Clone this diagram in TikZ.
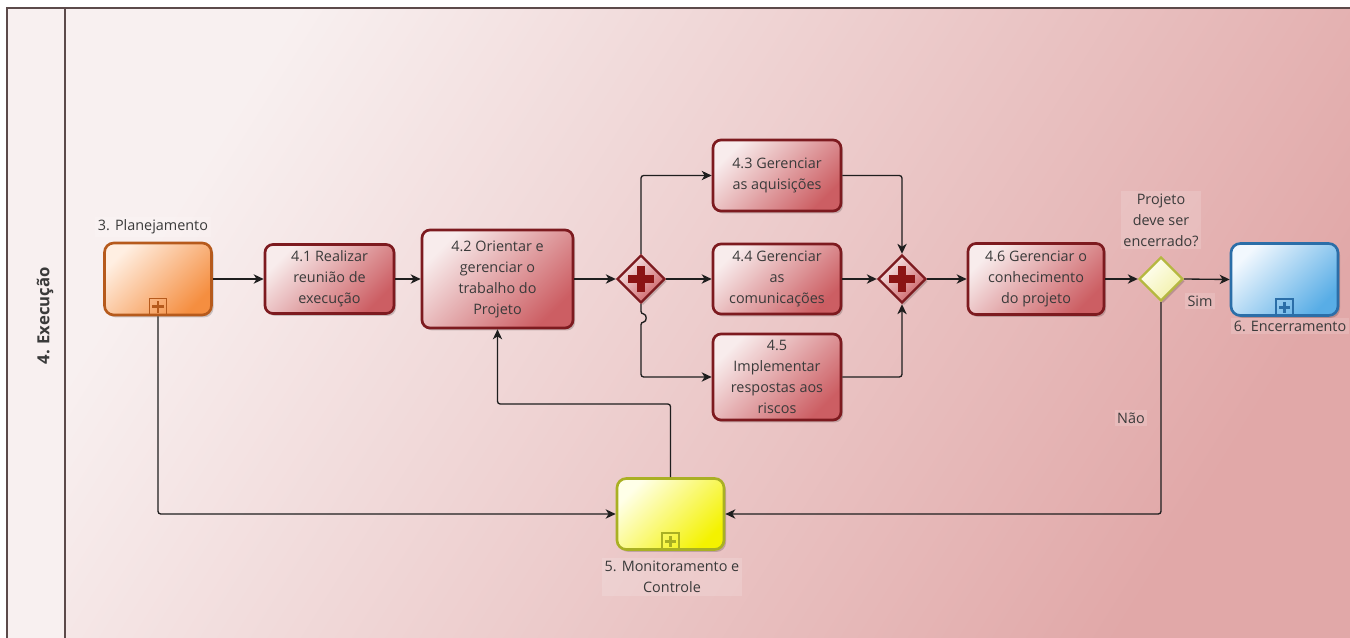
\documentclass[tikz,border=0pt]{standalone}
\usepackage{fontspec}
\setmainfont{Open Sans}
\usetikzlibrary{arrows.meta,shapes.geometric,shadows}
\definecolor{txtc}{HTML}{3A3A3A}
\definecolor{linec}{HTML}{1E1E1E}
\definecolor{poolc}{HTML}{5C4A4A}
\definecolor{bgl}{HTML}{F8F0F0}
\definecolor{bgd}{HTML}{E1A8A8}
\definecolor{lanec}{HTML}{F8F0F0}
\definecolor{taskb}{HTML}{7D1A1F}
\definecolor{taskl}{HTML}{F8ECEC}
\definecolor{taskd}{HTML}{CC5E63}
\definecolor{planb}{HTML}{B65A1C}
\definecolor{planl}{HTML}{FFEFE2}
\definecolor{pland}{HTML}{F58E40}
\definecolor{monb}{HTML}{A9B023}
\definecolor{monl}{HTML}{FFFFE8}
\definecolor{mond}{HTML}{F4F200}
\definecolor{encb}{HTML}{2B6EA8}
\definecolor{encl}{HTML}{F2F8FE}
\definecolor{encd}{HTML}{58ADE6}
\definecolor{xorb}{HTML}{B5B840}
\definecolor{xorl}{HTML}{FFFFF4}
\definecolor{xord}{HTML}{F2F0A8}
\definecolor{plusc}{HTML}{8B1414}
\newcommand\mysubmark[2]{%
  \draw[line width=1.1pt,draw=#2] ([xshift=-6.5pt,yshift=0.5pt]#1.south) rectangle ([xshift=6.5pt,yshift=13.5pt]#1.south);
  \fill[#2] ([xshift=-4.3pt,yshift=6pt]#1.south) rectangle ([xshift=4.3pt,yshift=8.2pt]#1.south);
  \fill[#2] ([xshift=-1.1pt,yshift=2.8pt]#1.south) rectangle ([xshift=1.1pt,yshift=11.4pt]#1.south);}
\begin{document}
\begin{tikzpicture}[x=0.75pt,y=-0.75pt,
  txt/.style={font=\fontsize{10.8}{15.75}\selectfont, text=txtc, align=center},
  shade/.style={drop shadow={shadow xshift=1.5pt, shadow yshift=-1.8pt, opacity=0.18, fill=black}},
  task/.style={txt, draw=taskb, line width=2pt, rounded corners=6pt, top color=taskl, bottom color=taskd, shading angle=45, shade, inner sep=1pt},
  subp/.style={draw=#1b, line width=2pt, rounded corners=7pt, top color=#1l, bottom color=#1d, shading angle=45, shade, minimum width=80.25pt, minimum height=54pt},
  gwand/.style={diamond, aspect=1, inner sep=0pt, minimum width=36pt, minimum height=36pt, draw=taskb, line width=1.8pt, top color=taskl, bottom color=taskd, shading angle=45, shade,
    path picture={\fill[plusc] ([xshift=-9.6pt,yshift=-2.7pt]path picture bounding box.center) rectangle ([xshift=9.6pt,yshift=2.7pt]path picture bounding box.center);
      \fill[plusc] ([xshift=-2.7pt,yshift=-9.6pt]path picture bounding box.center) rectangle ([xshift=2.7pt,yshift=9.6pt]path picture bounding box.center);}},
  gwxor/.style={diamond, aspect=1, inner sep=0pt, minimum width=33pt, minimum height=33pt, draw=xorb, line width=1.8pt, top color=xorl, bottom color=xord, shading angle=45, shade},
  lbl/.style={txt, fill=white, fill opacity=0.15, text opacity=1, inner sep=2pt},
  flow/.style={draw=linec, line width=1pt, rounded corners=2pt, -{Stealth[length=7.5pt,width=7pt,inset=2.2pt]}},
]
\useasboundingbox (0,0) rectangle (1350,638);
% pool and lane
\fill[white] (0,0) rectangle (1350,638);
\shade[top color=bgl, bottom color=bgd, shading angle=58] (65,8) rectangle (1350,638);
\fill[lanec] (7,8) rectangle (65,638);
\draw[poolc, line width=1.1pt] (1350,8) -- (7,8) -- (7,638);
\draw[poolc, line width=1.1pt] (65,8) -- (65,638);
\node[txt, font=\bfseries\fontsize{12.5}{15}\selectfont, rotate=90] (lane) at (45,316) {4. Execução};

% nodes
\node[subp=plan] (plan) at (158,279) {};
\node[lbl] (planlbl) at (153,227) {3. Planejamento};
\node[task, minimum width=96.75pt, minimum height=51.75pt] (t41) at (329.5,279) {4.1 Realizar\\reunião de\\execução};
\node[task, minimum width=113.25pt, minimum height=73.5pt] (t42) at (497.5,279) {4.2 Orientar e\\gerenciar o\\trabalho do\\Projeto};
\node[gwand] (g1) at (641,279) {};
\node[task, minimum width=96pt, minimum height=53.25pt] (t43) at (777,175.5) {4.3 Gerenciar\\as aquisições};
\node[task, minimum width=96pt, minimum height=52.5pt] (t44) at (777,279) {4.4 Gerenciar\\as\\comunicações};
\node[task, minimum width=96pt, minimum height=64.5pt] (t45) at (777,377) {4.5\\Implementar\\respostas aos\\riscos};
\node[gwand] (g2) at (902,279) {};
\node[task, minimum width=102pt, minimum height=53.25pt] (t46) at (1036,279) {4.6 Gerenciar o\\conhecimento\\do projeto};
\node[gwxor] (xor) at (1161,279) {};
\node[lbl] (xorlbl) at (1161,220) {Projeto\\deve ser\\encerrado?};
\node[subp=enc] (enc) at (1284.5,279.5) {};
\node[lbl] (enclbl) at (1290,326) {6. Encerramento};
\node[subp=mon, minimum height=53.25pt] (mon) at (670.5,514) {};
\node[lbl] (monlbl) at (672,577) {5. Monitoramento e\\Controle};
\mysubmark{plan}{planb}
\mysubmark{enc}{encb}
\mysubmark{mon}{monb}

% connectors
\draw[flow] (plan.east) -- (t41.west);
\draw[flow] (t41.east) -- (t42.west);
\draw[flow] (t42.east) -- (g1.west);
\draw[flow] (g1.north) |- (t43.west);
\draw[flow] (g1.east) -- (t44.west);
\draw[flow] (g1.south) -- (641,314) .. controls (647,314) and (647,322) .. (641,322) |- (t45.west);
\draw[flow] (t43.east) -| (g2.north);
\draw[flow] (t44.east) -- (g2.west);
\draw[flow] (t45.east) -| (g2.south);
\draw[flow] (g2.east) -- (t46.west);
\draw[flow] (t46.east) -- (xor.west);
\node[lbl] (sim) at (1200,301) {Sim};
\draw[flow] (xor.east) -- (enc.west);
\draw[flow] (xor.south) |- (mon.east);
\node[lbl] (nao) at (1131,418) {Não};
\draw[flow] (plan.south) |- (mon.west);
\coordinate (bend) at (497.5,404);
\draw[flow] (mon.north) |- (bend) -- (t42.south);
\end{tikzpicture}
\end{document}
